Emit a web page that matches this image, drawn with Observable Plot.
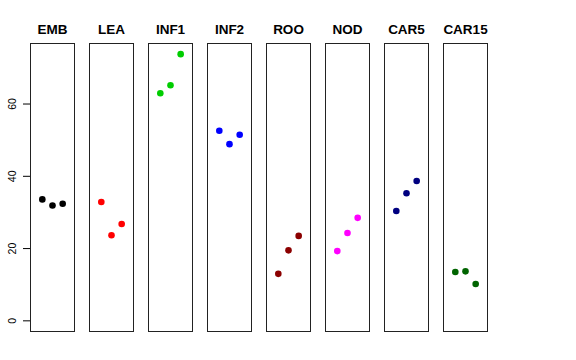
<!DOCTYPE html>
<html>
<head>
<meta charset="utf-8">
<script src="https://cdn.jsdelivr.net/npm/d3@7"></script>
<script src="https://cdn.jsdelivr.net/npm/@observablehq/plot@0.6"></script>
<style>
  html, body { margin: 0; padding: 0; background: #fff; }
</style>
</head>
<body>
<div id="chart"></div>
<script>
const panels = ["EMB", "LEA", "INF1", "INF2", "ROO", "NOD", "CAR5", "CAR15"];
const panelColors = ["#000000", "#FF0000", "#00CD00", "#0000FF", "#8B0000", "#FF00FF", "#000080", "#006400"];
const replicate = [1, 2, 3];
const EMB = [33.6, 31.9, 32.4];
const LEA = [32.9, 23.7, 26.8];
const INF1 = [63.0, 65.2, 73.8];
const INF2 = [52.6, 48.9, 51.5];
const ROO = [13.0, 19.5, 23.5];
const NOD = [19.3, 24.3, 28.5];
const CAR5 = [30.4, 35.3, 38.7];
const CAR15 = [13.5, 13.7, 10.2];
const yTicks = [0, 20, 40, 60];

const series = [EMB, LEA, INF1, INF2, ROO, NOD, CAR5, CAR15];
const data = [];
panels.forEach((p, i) => {
  series[i].forEach((v, j) => data.push({panel: p, rep: replicate[j], value: v, color: panelColors[i]}));
});

// R-style 4% extension of ylim c(0, max) and xlim c(0, 4)
const yMax = d3.max(data, d => d.value);
const yExt = yMax * 0.04;
const xExt = 4 * 0.04;

const chart = Plot.plot({
  width: 576,
  height: 360,
  marginLeft: 29,
  marginRight: 88,
  marginTop: 43,
  marginBottom: 29,
  style: {fontFamily: "Liberation Sans, Arial, Helvetica, sans-serif", background: "#fff"},
  fx: {domain: panels, paddingInner: 0.248, paddingOuter: 0, label: null},
  x: {domain: [0 - xExt, 4 + xExt], axis: null},
  y: {domain: [0 - yExt, yMax + yExt], axis: null},
  marks: [
    Plot.frame({stroke: "#222", strokeWidth: 1}),
    Plot.axisFx({anchor: "top", tickSize: 0, tickPadding: 10, fontSize: 13.5, fontWeight: "bold", label: null, fill: "#000"}),
    Plot.axisY(yTicks, {anchor: "left", tickSize: 7, tickPadding: 8, tickRotate: -90, fontSize: 10.5, label: null, stroke: "#000", fill: "#000"}),
    Plot.dot(data, {fx: "panel", x: "rep", y: "value", r: 3.3, fill: "color", stroke: null})
  ]
});
document.getElementById("chart").appendChild(chart);
</script>
</body>
</html>
